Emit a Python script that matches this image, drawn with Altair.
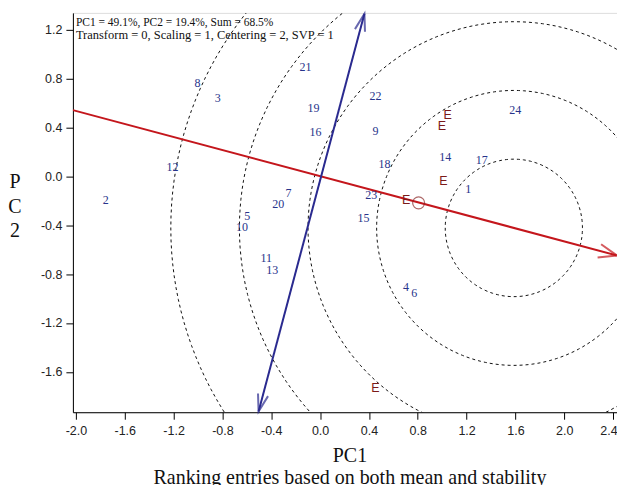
import altair as alt
import pandas as pd
import numpy as np

# ---- data ----
gen_labels = [str(i) for i in range(1, 25)]
gen_x = [1.213, -1.755, -0.839, 0.704, -0.596, 0.772, -0.258, -1.005, 0.453, -0.640,
         -0.441, -1.209, -0.392, 1.025, 0.355, -0.038, 1.325, 0.527, -0.054, -0.343,
         -0.119, 0.453, 0.418, 1.598]
gen_y = [-0.106, -0.196, 0.639, -0.904, -0.327, -0.952, -0.141, 0.762, 0.370, -0.414,
         -0.672, 0.076, -0.767, 0.158, -0.345, 0.357, 0.136, 0.103, 0.561, -0.231,
         0.892, 0.653, -0.155, 0.544]

env_labels = ["E", "E", "E", "E", "E"]
env_x = [1.044, 0.998, 1.011, 0.704, 0.453]
env_y = [0.498, 0.408, -0.038, -0.196, -1.733]

avg_env_x = [0.807]
avg_env_y = [-0.218]

aec_x = [-2.025, 2.43]        # average-environment axis (red)
aec_y = [0.540, -0.648]
ord_x = [-0.504, 0.363]       # perpendicular axis (blue)
ord_y = [-1.924, 1.328]

ideal_center = (1.587, -0.423)
ring_radius = 0.562
ring_count = 5

x_ticks = [-2.0, -1.6, -1.2, -0.8, -0.4, 0.0, 0.4, 0.8, 1.2, 1.6, 2.0, 2.4]
y_ticks = [-1.6, -1.2, -0.8, -0.4, 0.0, 0.4, 0.8, 1.2]

annot_line1 = "PC1 = 49.1%, PC2 = 19.4%, Sum = 68.5%"
annot_line2 = "Transform = 0, Scaling = 1, Centering = 2, SVP = 1"
x_title = ["PC1", "Ranking entries based on both mean and stability"]
y_title = ["P", "C", "2"]

# ---- tables ----
gen_df = pd.DataFrame({"x": gen_x, "y": gen_y, "label": gen_labels})
env_df = pd.DataFrame({"x": env_x, "y": env_y, "label": env_labels})
avg_df = pd.DataFrame({"x": avg_env_x, "y": avg_env_y})
aec_df = pd.DataFrame({"x": aec_x, "y": aec_y, "o": [0, 1]})
ord_df = pd.DataFrame({"x": ord_x, "y": ord_y, "o": [0, 1]})

rows = []
ang = np.deg2rad(np.arange(0, 362, 2))
for k in range(1, ring_count + 1):
    r = ring_radius * k
    for i, a in enumerate(ang):
        rows.append({"ring": k, "i": i,
                     "x": ideal_center[0] + r * np.cos(a),
                     "y": ideal_center[1] + r * np.sin(a)})
ring_df = pd.DataFrame(rows)

XD = [-2.025, 2.432]
YD = [-1.93, 1.335]
xs = alt.Scale(domain=XD, nice=False, zero=False)
ys = alt.Scale(domain=YD, nice=False, zero=False)

lbl_expr = "replace(format(datum.value, '.1f'), '\u2212', '-')"
xaxis = alt.Axis(values=x_ticks, labelExpr=lbl_expr, title=x_title, grid=False,
                 tickSize=7, tickColor="#000", domainColor="#000",
                 labelFont="Liberation Sans", labelFontSize=12.5, labelColor="#222",
                 labelAlign={"condition": {"test": "datum.value > 2.3", "value": "right"},
                             "value": "center"},
                 labelOffset={"condition": {"test": "datum.value > 2.3", "value": 4},
                              "value": 0},
                 labelPadding=5, titleFont="Liberation Serif", titleFontSize=20,
                 titleFontWeight="normal", titleColor="#111", titleLineHeight=22,
                 titleBaseline="top", titleY=33, titleX=277)
yaxis = alt.Axis(values=y_ticks, labelExpr=lbl_expr, title=y_title, grid=False,
                 tickSize=7, tickColor="#000", domainColor="#000",
                 labelFont="Liberation Sans", labelFontSize=12.5, labelColor="#222",
                 labelPadding=4, titleFont="Liberation Serif", titleFontSize=20,
                 titleFontWeight="normal", titleColor="#111", titleAngle=0,
                 titleAlign="center", titleBaseline="top", titleLineHeight=24.5,
                 titleX=-58.5, titleY=159)

X = alt.X("x:Q", scale=xs, axis=xaxis)
Y = alt.Y("y:Q", scale=ys, axis=yaxis)
Xn = alt.X("x:Q", scale=xs)
Yn = alt.Y("y:Q", scale=ys)

rings = alt.Chart(ring_df).mark_line(clip=True, color="#111", strokeWidth=1,
                                     strokeDash=[3, 3]).encode(
    x=X, y=Y, detail="ring:N", order="i:Q")

aec = alt.Chart(aec_df).mark_line(color="#c4161c", strokeWidth=2, clip=True).encode(
    x=Xn, y=Yn, order="o:Q")
ordl = alt.Chart(ord_df).mark_line(color="#2a2a8f", strokeWidth=2, clip=True).encode(
    x=Xn, y=Yn, order="o:Q")

arrow_path = "M-1,-0.38L0,0L-1,0.38"
arrow_path_b = "M-1,-0.3L0,0L-1,0.3"
red_head = alt.Chart(aec_df.iloc[[1]]).mark_point(
    shape=arrow_path, size=1300, filled=False, stroke="#c4161c", strokeWidth=2,
    angle=14.9).encode(x=Xn, y=Yn)
blue_top = alt.Chart(ord_df.iloc[[1]]).mark_point(
    shape=arrow_path_b, size=1200, filled=False, stroke="#2a2a8f", strokeWidth=2,
    angle=284.9).encode(x=Xn, y=Yn)
blue_bot = alt.Chart(ord_df.iloc[[0]]).mark_point(
    shape=arrow_path_b, size=1200, filled=False, stroke="#2a2a8f", strokeWidth=2,
    angle=104.9).encode(x=Xn, y=Yn)

avg = alt.Chart(avg_df).mark_point(shape="circle", size=144, filled=False,
                                   stroke="#8b2a2a", strokeWidth=1.2).encode(x=Xn, y=Yn)

gen_txt = alt.Chart(gen_df).mark_text(font="Liberation Serif", fontSize=12,
                                      color="#27348b", align="center",
                                      baseline="middle").encode(x=Xn, y=Yn, text="label:N")
env_txt = alt.Chart(env_df).mark_text(font="Liberation Sans", fontSize=12.5,
                                      color="#7b1a1a", align="center",
                                      baseline="middle").encode(x=Xn, y=Yn, text="label:N")

annot_df = pd.DataFrame({"t1": [annot_line1], "t2": [annot_line2]})
annot1 = alt.Chart(annot_df).mark_text(
    font="Liberation Serif", fontSize=11.5, color="#111", align="left",
    baseline="middle").encode(x=alt.value(3), y=alt.value(10), text="t1:N")
annot2 = alt.Chart(annot_df).mark_text(
    font="Liberation Serif", fontSize=12.5, color="#111", align="left",
    baseline="middle").encode(x=alt.value(3), y=alt.value(22.5), text="t2:N")

chart = alt.layer(rings, aec, ordl, red_head, blue_top, blue_bot, avg,
                  gen_txt, env_txt, annot1, annot2).properties(
    width=545, height=400,
    padding={"left": 65, "top": 4.5, "right": 0, "bottom": 72},
    autosize=alt.AutoSizeParams(type="none"),
).configure_view(stroke="#666", strokeWidth=1.5).configure(background="white")

chart.save("out.html", embed_options={"renderer": "svg", "actions": False})
